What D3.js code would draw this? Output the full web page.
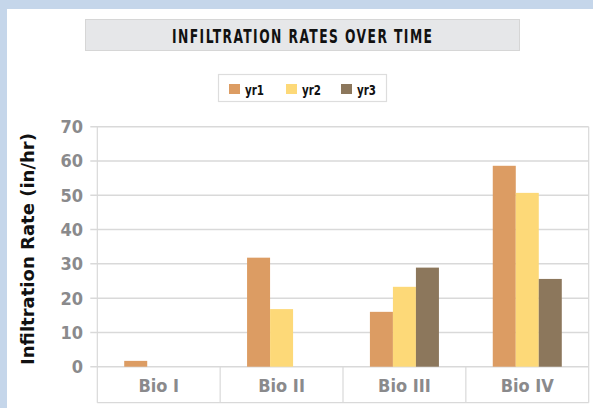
<!DOCTYPE html>
<html><head><meta charset="utf-8">
<script src="https://cdn.jsdelivr.net/npm/d3@7"></script>
<style>
html,body{margin:0;padding:0;background:#fff;}
svg{display:block;}
</style></head>
<body>
<svg id="chart" width="593" height="408"></svg>
<script>
const categories = ["Bio I", "Bio II", "Bio III", "Bio IV"];
const seriesNames = ["yr1", "yr2", "yr3"];
const yr1 = [1.7, 31.8, 16.0, 58.6];
const yr2 = [0, 16.8, 23.3, 50.7];
const yr3 = [0, 0, 28.9, 25.6];
const yTicks = [0, 10, 20, 30, 40, 50, 60, 70];
const colors = ["#dc9c63", "#fdd978", "#8c775c"];
const titleText = "INFILTRATION RATES OVER TIME";
const yTitle = "Infiltration Rate (in/hr)";

(function(){
const series = [yr1, yr2, yr3];
const svg = d3.select("#chart");
const W = 593, H = 408;
const font = "'DejaVu Sans Condensed', 'DejaVu Sans', sans-serif";

// background frame
svg.append("rect").attr("x",0).attr("y",0).attr("width",W).attr("height",H).attr("fill","#c5d6ea");
svg.append("rect").attr("x",7).attr("y",9).attr("width",W-7).attr("height",H-9).attr("fill","#fff");

// title box
svg.append("rect").attr("x",85.5).attr("y",19.5).attr("width",434).attr("height",31)
  .attr("fill","#e6e7e9").attr("stroke","#d6d6d6").attr("stroke-width",1);
const sx = 0.72;
svg.append("g").attr("transform",`translate(172,43) scale(${sx},1)`)
  .append("text").attr("x",0).attr("y",0)
  .attr("font-family",font).attr("font-weight","bold").attr("font-size",19)
  .attr("textLength",260/sx).attr("lengthAdjust","spacing")
  .attr("fill","#111").text(titleText);

// legend
const lg = svg.append("g");
lg.append("rect").attr("x",218.5).attr("y",74.5).attr("width",168).attr("height",27)
  .attr("fill","#fff").attr("stroke","#ddd").attr("stroke-width",1.2);
const legX = [229, 286, 341];
seriesNames.forEach((s,i)=>{
  lg.append("rect").attr("x",legX[i]).attr("y",84).attr("width",11).attr("height",10).attr("fill",colors[i]);
  lg.append("text").attr("x",legX[i]+16).attr("y",94.5).attr("font-family",font)
    .attr("font-weight","bold").attr("font-size",14)
    .attr("textLength",19).attr("lengthAdjust","spacingAndGlyphs")
    .attr("fill","#111").text(s);
});

// plot
const pLeft = 97.3, pRight = 588.7, pTop = 126.7, pBottom = 366.7, catBottom = 402.7;
const x = d3.scaleBand().domain(categories).range([pLeft, pRight]).paddingInner(0).paddingOuter(0);
const inner = d3.scaleBand().domain(seriesNames).range([0, x.bandwidth()]).paddingOuter(1.17).paddingInner(0);
const y = d3.scaleLinear().domain([0, 70]).range([pBottom, pTop]);

// gridlines
svg.append("g").selectAll("line").data(yTicks).join("line")
  .attr("x1", pLeft-7).attr("x2", pRight).attr("y1", d=>y(d)).attr("y2", d=>y(d))
  .attr("stroke","#d9d9d9").attr("stroke-width",1.5);
// frame lines
svg.append("line").attr("x1",pLeft).attr("x2",pLeft).attr("y1",pTop).attr("y2",catBottom).attr("stroke","#d9d9d9").attr("stroke-width",1.2);
svg.append("line").attr("x1",pRight).attr("x2",pRight).attr("y1",pTop).attr("y2",catBottom).attr("stroke","#d9d9d9").attr("stroke-width",1.2);
svg.append("line").attr("x1",pLeft).attr("x2",pRight).attr("y1",catBottom).attr("y2",catBottom).attr("stroke","#d9d9d9").attr("stroke-width",1.2);
svg.append("g").selectAll("line").data(categories.slice(1)).join("line")
  .attr("x1", d=>x(d)).attr("x2", d=>x(d)).attr("y1", pBottom).attr("y2", catBottom)
  .attr("stroke","#d9d9d9").attr("stroke-width",1.2);

// bars
const rows = categories.map((c,ci)=>({c, vals: series.map((s,si)=>({s: seriesNames[si], v: s[ci], i: si}))}));
svg.append("g").selectAll("g").data(rows).join("g")
  .attr("transform", d=>`translate(${x(d.c)},0)`)
  .selectAll("rect").data(d=>d.vals.filter(v=>v.v>0)).join("rect")
  .attr("x", d=>inner(d.s)).attr("width", inner.bandwidth())
  .attr("y", d=>y(d.v)).attr("height", d=>pBottom - y(d.v))
  .attr("fill", d=>colors[d.i]);

// y tick labels
svg.append("g").selectAll("text").data(yTicks).join("text")
  .attr("x", 83).attr("y", d=>y(d)+6.5).attr("text-anchor","end")
  .attr("font-family",font).attr("font-weight","bold").attr("font-size",18)
  .attr("fill","#8a8a8c").text(d=>d);

// x labels
svg.append("g").selectAll("text").data(categories).join("text")
  .attr("x", d=>x(d)+x.bandwidth()/2).attr("y", 392).attr("text-anchor","middle")
  .attr("font-family",font).attr("font-weight","bold").attr("font-size",18)
  .attr("fill","#8a8a8c").text(d=>d);

// y title
svg.append("text").attr("transform","translate(34,365) rotate(-90)")
  .attr("font-family",font).attr("font-weight","bold").attr("font-size",18)
  .attr("textLength",232).attr("lengthAdjust","spacingAndGlyphs")
  .attr("fill","#111").text(yTitle);
})();
</script>
</body></html>
